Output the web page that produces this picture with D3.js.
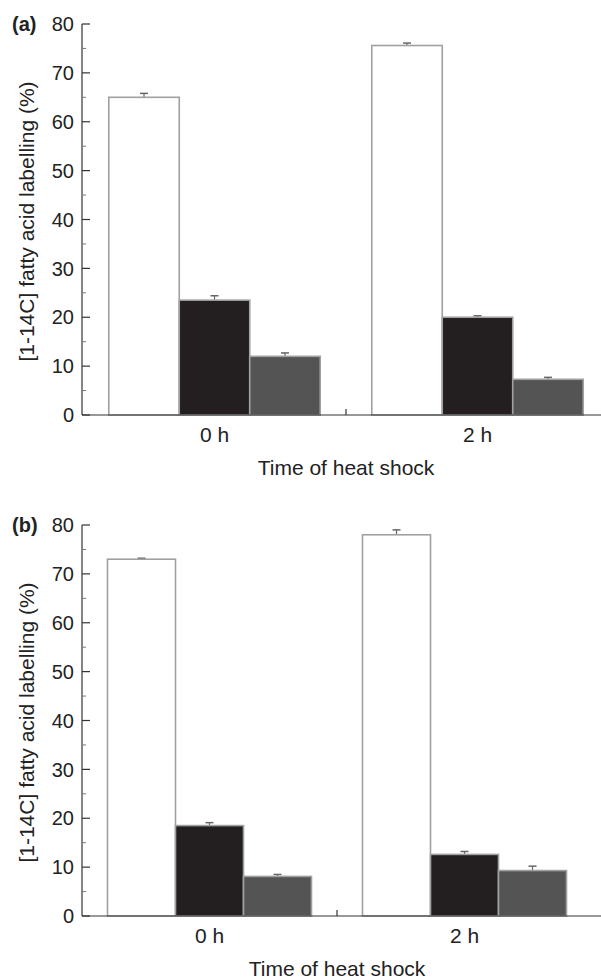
<!DOCTYPE html>
<html><head><meta charset="utf-8">
<script src="https://cdn.jsdelivr.net/npm/d3@7"></script>
<style>body{margin:0;background:#fff}svg{display:block}text{font-family:"Liberation Sans",Arial,sans-serif;fill:#222}</style>
</head><body><svg id="c" width="601" height="980"></svg>
<script>
const categories = ["0 h", "2 h"];
const series = ["white", "black", "grey"];
const yTicks = [0, 10, 20, 30, 40, 50, 60, 70, 80];
const panelLabels = ["(a)", "(b)"];
const xTitle = "Time of heat shock";
const yTitle = "[1-14C] fatty acid labelling (%)";
// panel (a): values per category [white, black, grey]
const valuesA = [[65.0, 23.5, 12.0], [75.6, 20.0, 7.3]];
const errorsA = [[0.8, 0.9, 0.7], [0.5, 0.3, 0.4]];
// panel (b)
const valuesB = [[73.0, 18.5, 8.1], [78.0, 12.6, 9.3]];
const errorsB = [[0.2, 0.6, 0.4], [1.0, 0.6, 0.9]];

const fills = {white: "#ffffff", black: "#231f20", grey: "#545454"};
const svg = d3.select("#c");

function panel(cfg) {
  const g = svg.append("g");
  const y = d3.scaleLinear().domain([0, 80]).range([cfg.y0, cfg.y80]);
  const x0 = d3.scaleBand().domain(categories).range(cfg.xr).paddingInner(cfg.pi).paddingOuter(cfg.pi / 2);
  const x1 = d3.scaleBand().domain(series).range([0, x0.bandwidth()]);
  const axX = 82;
  // bars
  categories.forEach((c, i) => {
    series.forEach((s, j) => {
      const v = cfg.values[i][j], e = cfg.errors[i][j];
      const bx = x0(c) + x1(s);
      const cx = bx + x1.bandwidth() / 2;
      g.append("line").attr("x1", cx).attr("x2", cx).attr("y1", y(v)).attr("y2", y(v + e))
        .attr("stroke", "#666").attr("stroke-width", 1.2);
      g.append("line").attr("x1", cx - 4).attr("x2", cx + 4).attr("y1", y(v + e)).attr("y2", y(v + e))
        .attr("stroke", "#666").attr("stroke-width", 1.5);
      g.append("rect").attr("x", bx).attr("y", y(v)).attr("width", x1.bandwidth()).attr("height", y(0) - y(v))
        .attr("fill", fills[s]).attr("stroke", "#a0a0a0").attr("stroke-width", 1.6);
    });
  });
  // y axis
  g.append("line").attr("x1", axX).attr("x2", axX).attr("y1", y(0)).attr("y2", y(80)).attr("stroke", "#333").attr("stroke-width", 1.2);
  yTicks.forEach(t => {
    g.append("line").attr("x1", axX).attr("x2", axX + 8).attr("y1", y(t)).attr("y2", y(t)).attr("stroke", "#333").attr("stroke-width", 1.2);
    g.append("text").attr("x", axX - 8).attr("y", y(t)).attr("dy", "0.36em").attr("text-anchor", "end")
      .attr("font-size", 20).text(t);
    if (t < 80) {
      g.append("line").attr("x1", axX).attr("x2", axX + 4).attr("y1", y(t + 5)).attr("y2", y(t + 5)).attr("stroke", "#777").attr("stroke-width", 1);
    }
  });
  // x axis
  g.append("line").attr("x1", axX).attr("x2", 601).attr("y1", y(0)).attr("y2", y(0)).attr("stroke", "#333").attr("stroke-width", 1.2);
  const mid = x0(categories[1]) - x0.step() * x0.paddingInner() / 2;
  g.append("line").attr("x1", mid).attr("x2", mid).attr("y1", y(0)).attr("y2", y(0) - 6).attr("stroke", "#333").attr("stroke-width", 1.2);
  categories.forEach(c => {
    g.append("text").attr("x", x0(c) + x0.bandwidth() / 2).attr("y", y(0) + 27).attr("text-anchor", "middle")
      .attr("font-size", 21).text(c);
  });
  g.append("text").attr("x", mid).attr("y", y(0) + 60).attr("text-anchor", "middle").attr("font-size", 21).text(xTitle);
  g.append("text").attr("transform", `translate(34,${(y(0) + y(80)) / 2 + 2}) rotate(-90)`).attr("text-anchor", "middle")
    .attr("font-size", 21).text(yTitle);
  g.append("text").attr("x", 12).attr("y", y(80) + 7).attr("font-size", 20).attr("font-weight", "bold").text(cfg.label);
}

panel({values: valuesA, errors: errorsA, y0: 415, y80: 24, xr: [83, 609], pi: 0.196, label: panelLabels[0]});
panel({values: valuesB, errors: errorsB, y0: 916, y80: 525, xr: [82, 592], pi: 0.2, label: panelLabels[1]});
</script></body></html>
